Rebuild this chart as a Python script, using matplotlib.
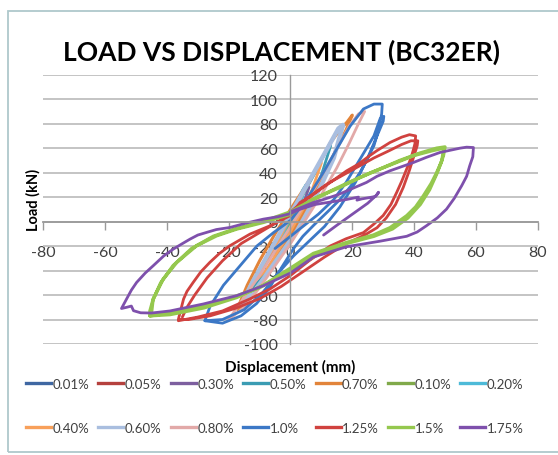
import matplotlib.pyplot as plt
from matplotlib.patches import Rectangle
from matplotlib.lines import Line2D

plt.rcParams['font.family'] = ['Lato', 'DejaVu Sans']
plt.rcParams['axes.unicode_minus'] = False

# ---- data (displacement mm, load kN) ----
x_001 = [-1, -0.5, 0, 0.5, 1, 0.6, 0, -0.6, -1]
y_001 = [-4, -3, -1, 1.5, 4, 3, 1, -1.5, -4]

x_005 = [-2, -1, 0, 1, 2, 1.3, 0, -1.3, -2]
y_005 = [-9, -6, -2, 3, 8, 6, 2, -4, -9]

x_030 = [-7, -4, -1, 2, 4.5, 6, 4.5, 2, -1, -4, -7]
y_030 = [-30, -22, -10, 4, 17, 28, 24, 14, 0, -14, -30]

x_050 = [-14, -10, -6, -2, 2, 6, 10, 13, 11.5, 8, 4, 0, -4, -8, -11, -14]
y_050 = [-58, -48, -34, -18, -2, 16, 38, 62, 58, 40, 22, 4, -14, -32, -46, -58]

x_070 = [-17, -13, -8, -4, 0, 4, 8, 12, 15, 18, 20, 18.2, 16, 12.8, 9.5, 6.9, 3.6, 0, -5, -10, -14, -17]
y_070 = [-72, -62, -44, -28, -12, 6, 24, 44, 60, 75, 87, 81, 75, 64, 48, 37, 24, 10, -10, -32, -52, -70]

x_010 = [-3, -2, -1, 0, 1, 2, 3, 2, 0.5, -1, -2.2, -3]
y_010 = [-14, -11, -7, -2, 3, 8, 14, 11, 5, -2, -8, -14]

x_020 = [-5, -3, -1, 1, 3, 5, 4, 2, 0, -2, -4, -5]
y_020 = [-25, -18, -10, 0, 12, 30, 26, 14, 3, -8, -18, -25]

x_040 = [-12, -8, -4, 0, 4, 7, 10, 8.5, 6, 3, 0, -4, -8, -12]
y_040 = [-50, -40, -24, -8, 10, 26, 48, 44, 32, 18, 4, -16, -32, -50]

x_060 = [-16, -12, -8, -3, 2, 6, 10, 14, 17, 15.5, 12, 8, 4, 0, -4, -8, -12, -16]
y_060 = [-68, -58, -44, -26, -8, 10, 30, 52, 79, 76, 60, 42, 24, 6, -12, -30, -48, -68]

x_080 = [-20, -15, -10, -5, 0, 5, 10, 15, 19, 22, 24, 22, 19, 16, 12, 8, 4, 0, -5, -10, -15, -20]
y_080 = [-80, -70, -54, -36, -18, 2, 22, 44, 64, 80, 90, 88, 78, 64, 46, 28, 12, -4, -24, -44, -62, -80]

x_100 = [-27.7, -22, -16, -11, -7, -3, 1, 4, 7.5, 12, 16, 19.5, 22.5, 25, 27, 28.5, 29.5, 29.7,
         27, 23.6, 19.3, 14.9, 10.6, 5.2, 0, -5.5, -10.9, -16.3, -21.7, -26, -27.7,
         -22, -15, -9, -4, 1, 6, 11, 16, 21, 25, 28, 30, 30.2,
         29, 27, 22.5, 18, 14, 9, 4, 0, -5]
y_100 = [-81, -83, -77, -67, -55, -38, -22, -12, -3, 8, 18, 29, 40, 52, 62, 75, 88, 96,
         96, 92, 78, 59, 40, 18, 1, -9, -20, -36, -52, -69, -81,
         -80, -72, -58, -42, -28, -16, -4, 12, 32, 52, 70, 82, 86,
         84, 70, 51, 32, 18, 6, -4, -12, -22]

x_125 = [-36.3, -30, -22, -13, -6.6, 0, 6, 12.8, 18, 23.6, 27, 30, 32.5, 34.4, 36, 37.6, 39, 39.8, 40.3, 40.5,
         38.5, 36, 32.2, 28, 25.7, 22, 18.2, 14, 10.6, 7, 3.1, 0, -6.6, -13.1, -19.6, -23, -26.1, -29, -31.5,
         -33.5, -34.6, -35.5, -36.3,
         -33, -26, -18, -10, -3, 4, 11, 18, 24, 28, 31, 34, 36.5, 38.5, 40, 41, 41.2,
         39, 36, 32, 27, 22, 17, 12, 7, 2, -4, -10, -16, -22, -27, -31, -33.5, -35]
y_125 = [-81, -78, -73, -63, -55, -44, -32, -20, -14, -9, -2, 5, 14, 24, 33, 43, 52, 59, 64, 70,
         71, 69, 64.6, 58, 54, 47, 41.5, 34, 28, 21.5, 15.6, 5, -3.4, -10.2, -19.7, -26, -33.3, -41, -49.7,
         -57, -63.2, -72, -80,
         -80, -77, -71, -63, -53, -41, -29, -18, -11, -5, 3, 14, 28, 42, 54, 62, 66,
         66, 63, 58, 52, 45, 38, 31, 22, 12, 0, -9, -18, -32, -46, -60, -70, -78]

x_150 = [-45.5, -39, -28, -17.4, -8.8, 0, 7.4, 18.2, 26.8, 32.2, 37.6, 40.5, 43, 45.5, 47.3, 48.7, 49.5, 50,
         47.3, 41.9, 35.4, 29, 22.5, 16, 7.4, 0, -8.8, -17.4, -23.9, -30.4, -36.8, -41.2, -44.4, -45.5, -45.5,
         -40, -30, -20, -10, 0, 8, 18, 27, 33, 38, 42, 45, 47.5, 49, 49.6,
         46, 40, 33, 26, 18, 8, 0, -9, -18, -25, -32, -38, -42, -44.5, -45]
y_150 = [-77, -76, -70.5, -62, -52, -38, -26, -17, -11, -5, 4.8, 12, 21, 31, 40, 48, 54, 61,
         60, 56, 50, 43, 36, 28, 18.4, 6, -0.7, -6.1, -11.6, -19.7, -33.3, -47, -63, -73, -77,
         -75, -70, -63, -54, -40, -28, -18, -12, -6, 3, 14, 26, 40, 50, 60,
         58, 54, 47, 40, 31, 19, 8, 0, -6, -12, -22, -36, -50, -64, -75]

x_175 = [10.7, 15, 20, 25, 28, 28.5, 27.5, 23, 21.5, 22, 18, 13, 8, 3, 0, -4, -8.8, -14, -19.6, -24, -27.1,
         -30, -32.5, -35, -37.9, -41, -44.4, -47, -49.8, -51.5, -53, -54.7, -53, -51.5, -50.8, -48.5,
         -45, -39, -28.2, -17.4, -8.8, 0, 7.4, 18.2, 29, 37.6, 41, 44, 47.5, 50.5, 53, 55.4, 57, 58,
         59, 59.2, 57, 54.9, 48.4, 44, 39.8, 32.2, 28, 24.6, 20, 15.4, 10, 7.4, 3, 0]
y_175 = [-11, -3, 6, 15, 22, 24, 20.5, 18.5, 17.5, 20, 18, 16, 14, 10, 6.5, 4, 2, -1, -4.8, -6.5, -8.8,
         -11, -14.3, -18, -22.4, -28, -36, -42, -49.7, -56, -63, -71, -70, -69, -72.8, -74.5,
         -74.7, -73, -67.3, -60.5, -52.4, -42, -29, -20.5, -16, -12, -8.5, -3.4, 3, 10.2, 19, 29.3, 37, 45.6,
         53, 60.5, 60.8, 60, 56.5, 52.5, 48.3, 41.5, 37, 32, 27, 22, 17.5, 15.6, 11, 8]

labels = ['0.01%', '0.05%', '0.30%', '0.50%', '0.70%', '0.10%', '0.20%',
          '0.40%', '0.60%', '0.80%', '1.0%', '1.25%', '1.5%', '1.75%']
colors = ['#3F67A2', '#B5413E', '#7D5F9F', '#3A9CB3', '#E2843A', '#80A94A', '#4DBAD8',
          '#F8A05A', '#A9BEDF', '#E2A9A8', '#3C78C6', '#D0423F', '#95C84E', '#7E50AC']
xs = [x_001, x_005, x_030, x_050, x_070, x_010, x_020, x_040, x_060, x_080, x_100, x_125, x_150, x_175]
ys = [y_001, y_005, y_030, y_050, y_070, y_010, y_020, y_040, y_060, y_080, y_100, y_125, y_150, y_175]
widths = [2, 2, 2, 2, 2.2, 2, 2, 2, 3.2, 2, 2, 2, 2.4, 2]

fig = plt.figure(figsize=(5.58, 4.56), dpi=100)
ax = fig.add_axes([43.3 / 558, 1 - 345 / 456, 494.4 / 558, 269.3 / 456])

handles = []
for x, y, lab, c, w in zip(xs, ys, labels, colors, widths):
    ax.plot(x, y, color=c, lw=w, solid_joinstyle='round', solid_capstyle='round')
    handles.append(Line2D([], [], color=c, lw=2.4))

ax.set_xlim(-80, 80)
ax.set_ylim(-100, 120)
ax.set_xticks(range(-80, 81, 20))
ax.set_yticks(range(-100, 121, 20))
ax.grid(axis='y', color='#BFBFBF', lw=1.3)
ax.set_axisbelow(True)

for s in ['top', 'right']:
    ax.spines[s].set_visible(False)
ax.spines['left'].set_position(('data', 0))
ax.spines['bottom'].set_position(('data', 0))
ax.spines['left'].set_color('#9A9A9A')
ax.spines['bottom'].set_color('#9A9A9A')
ax.spines['left'].set_linewidth(1)
ax.spines['bottom'].set_linewidth(1.3)
ax.tick_params(axis='x', direction='out', length=6, width=1, color='#9A9A9A', pad=11,
               labelsize=11.5, labelcolor='#404040')
ax.tick_params(axis='y', length=0, pad=9, labelsize=11.5, labelcolor='#404040')

fig.text(0.505, 1 - 52 / 456, 'LOAD VS DISPLACEMENT (BC32ER)', ha='center', va='center',
         fontsize=19, fontweight='bold')
fig.text(33 / 558, 1 - 200 / 456, 'Load (kN)', rotation=90, ha='center', va='center',
         fontsize=10.5, fontweight='bold')
fig.text(290 / 558, 1 - 367 / 456, 'Displacement (mm)', ha='center', va='center',
         fontsize=11, fontweight='bold')

order = []
for j in range(7):
    order += [j, j + 7]
fig.legend([handles[i] for i in order], [labels[i] for i in order], ncol=7,
           loc='upper left', bbox_to_anchor=(26 / 558, 1 - 379 / 456), frameon=False,
           fontsize=9.5, handlelength=1.9, handletextpad=0.1, columnspacing=0.7,
           labelspacing=2.4, labelcolor='#404040', borderaxespad=0, borderpad=0)

fig.patches.append(Rectangle((8 / 558, 3 / 456), 1.2, 441 / 456, transform=fig.transFigure,
                             fill=False, edgecolor='#AFC8CC', lw=1.3))

fig.savefig('out.png', dpi=100)
